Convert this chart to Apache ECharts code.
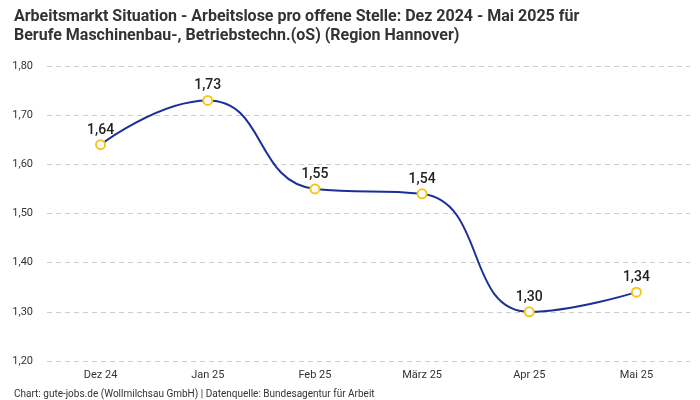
<!DOCTYPE html>
<html><head><meta charset="utf-8">
<script src="https://cdn.jsdelivr.net/npm/echarts@6/dist/echarts.min.js"></script>
<style>html,body{margin:0;padding:0;background:#fff}#c{width:700px;height:400px}</style>
</head><body><div id="c"></div>
<script>
const categories = ['Dez 24','Jan 25','Feb 25','März 25','Apr 25','Mai 25'];
const values = [1.64, 1.73, 1.55, 1.54, 1.30, 1.34];
const yMin = 1.2, yMax = 1.8, yStep = 0.1;
const fmt = v => v.toFixed(2).replace('.', ',');
const chart = echarts.init(document.getElementById('c'));
chart.setOption({
  backgroundColor: '#fff',
  animation: false,
  title: [{
    text: 'Arbeitsmarkt Situation - Arbeitslose pro offene Stelle: Dez 2024 - Mai 2025 für\nBerufe Maschinenbau-, Betriebstechn.(oS) (Region Hannover)',
    left: 9, top: 2,
    textStyle: {fontFamily: 'Roboto', fontWeight: 'bold', fontSize: 16, color: '#333', lineHeight: 19}
  },{
    text: 'Chart: gute-jobs.de (Wollmilchsau GmbH) | Datenquelle: Bundesagentur für Arbeit',
    left: 9, top: 383,
    textStyle: {fontFamily: 'Roboto', fontWeight: 'normal', fontSize: 10, color: '#333', lineHeight: 12}
  }],
  grid: {left: 47, right: 10, top: 66, bottom: 39},
  xAxis: {
    type: 'category', data: categories, boundaryGap: true,
    axisLine: {show: false}, axisTick: {show: false},
    axisLabel: {color: '#333', fontSize: 11, fontFamily: 'Roboto', margin: 9}
  },
  yAxis: {
    type: 'value', min: yMin, max: yMax, interval: yStep,
    axisLabel: {color: '#333', fontSize: 11, fontFamily: 'Roboto', formatter: fmt, margin: 14},
    splitLine: {lineStyle: {color: '#ccc', type: [5, 4]}},
    axisLine: {show: false}, axisTick: {show: false}
  },
  series: [{
    type: 'line', data: values, smooth: 0.5,
    lineStyle: {color: '#1c2f96', width: 2},
    symbol: 'circle', symbolSize: 9,
    itemStyle: {color: '#fff', borderColor: '#f7c51e', borderWidth: 2},
    label: {show: true, position: 'top', distance: 2, formatter: p => fmt(p.value),
      color: '#222', fontSize: 14, fontWeight: 500, fontFamily: 'Roboto'}
  }]
});
</script></body></html>
